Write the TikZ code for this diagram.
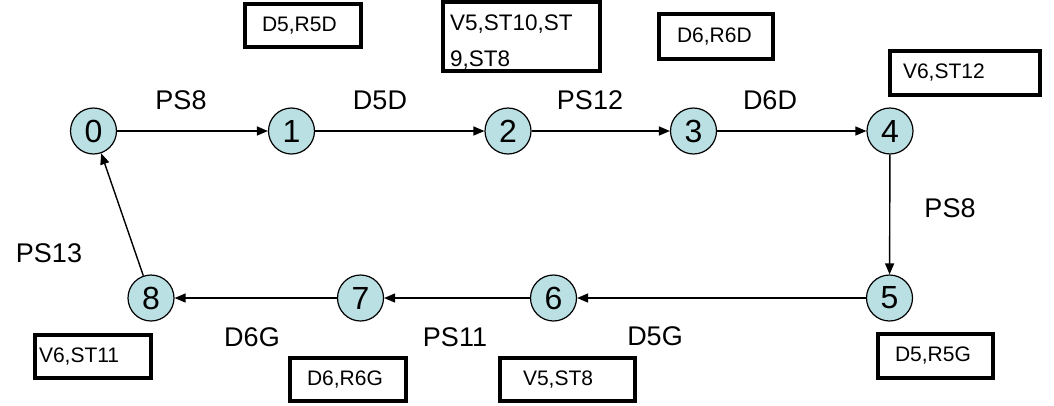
\documentclass[tikz,border=0pt]{standalone}
\usepackage{fontspec}
\setmainfont{Liberation Sans}
\usetikzlibrary{arrows.meta}
\definecolor{statefill}{RGB}{186,224,227}
\begin{document}
\begin{tikzpicture}[x=1pt,y=-1pt,
  state/.style={circle,draw=black,line width=1.2pt,fill=statefill,minimum size=46pt,inner sep=0pt,font=\fontsize{32}{36}\selectfont},
  elabel/.style={inner sep=0pt,font=\fontsize{27}{30}\selectfont},
  infobox/.style={draw=black,line width=4pt,align=left,inner ysep=0pt,font=\fontsize{21}{24}\selectfont},
  conn/.style={line width=1.4pt,-{Triangle[length=11pt,width=9pt]}}]
\useasboundingbox (0,0) rectangle (1054,405);
% states
\node[state] (s0) at (93.5,131) {0};
\node[state] (s1) at (291.5,131) {1};
\node[state] (s2) at (508,131) {2};
\node[state] (s3) at (693.5,131) {3};
\node[state] (s4) at (890,131) {4};
\node[state] (s5) at (889.5,298) {5};
\node[state] (s6) at (553.5,298) {6};
\node[state] (s7) at (360.5,298) {7};
\node[state] (s8) at (151,298) {8};
% connectors
\draw[conn] (s0) -- (s1);
\draw[conn] (s1) -- (s2);
\draw[conn] (s2) -- (s3);
\draw[conn] (s3) -- (s4);
\draw[conn] (s4) -- (s5);
\draw[conn] (s5) -- (s6);
\draw[conn] (s6) -- (s7);
\draw[conn] (s7) -- (s8);
\draw[conn] (s8) -- (s0);
% edge labels
\node[elabel] (l01) at (181,100) {PS8};
\node[elabel] (l12) at (380,100) {D5D};
\node[elabel] (l23) at (590,100) {PS12};
\node[elabel] (l34) at (770,100) {D6D};
\node[elabel] (l45) at (950,208) {PS8};
\node[elabel] (l56) at (655,336) {D5G};
\node[elabel] (l67) at (455,337) {PS11};
\node[elabel] (l78) at (252,337) {D6G};
\node[elabel] (l80) at (49,253) {PS13};
% info boxes
\node[infobox,minimum width=116pt,minimum height=43pt,inner xsep=17pt,text width=82pt] (b1) at (303,25.5) {D5,R5D};
\node[infobox,minimum width=157pt,minimum height=69pt,inner xsep=7pt,text width=143pt,font=\fontsize{22.5}{33}\selectfont] (b2) at (521.5,36.5) {\rule{0pt}{27pt}V5,ST10,ST\\[3pt]9,ST8};
\node[infobox,minimum width=114pt,minimum height=45pt,inner xsep=18pt,text width=78pt] (b3) at (716,36.5) {D6,R6D};
\node[infobox,minimum width=150pt,minimum height=44pt,inner xsep=13pt,text width=124pt] (b4) at (965,73) {V6,ST12};
\node[infobox,minimum width=116pt,minimum height=43pt,inner xsep=4pt,text width=108pt] (b5) at (93,356.5) {V6,ST11};
\node[infobox,minimum width=116pt,minimum height=43pt,inner xsep=17pt,text width=82pt] (b6) at (348,379.5) {D6,R6G};
\node[infobox,minimum width=135pt,minimum height=43pt,inner xsep=23pt,text width=89pt] (b7) at (567.5,379.5) {V5,ST8};
\node[infobox,minimum width=115pt,minimum height=44pt,inner xsep=17pt,text width=81pt] (b8) at (935.5,356) {D5,R5G};
\end{tikzpicture}
\end{document}
